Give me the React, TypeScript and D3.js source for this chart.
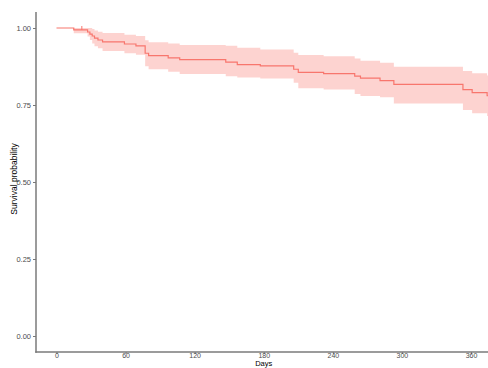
import React, { useEffect, useRef } from 'react';
import * as d3 from 'd3';

// Kaplan-Meier steps
const days = [0, 15, 27, 29, 31, 33, 36, 40, 59, 69, 77, 80, 97, 107, 147, 157, 177, 206, 210, 232, 259, 264, 281, 293, 353, 361, 374];
const surv = [1, 0.994, 0.987, 0.98, 0.974, 0.967, 0.961, 0.955, 0.948, 0.942, 0.918, 0.91, 0.903, 0.897, 0.889, 0.881, 0.877, 0.866, 0.856, 0.852, 0.844, 0.837, 0.829, 0.817, 0.8, 0.79, 0.78];
const upper = [1, 1, 1, 1, 0.997, 0.992, 0.988, 0.984, 0.978, 0.974, 0.96, 0.954, 0.95, 0.945, 0.942, 0.936, 0.93, 0.92, 0.912, 0.908, 0.901, 0.894, 0.887, 0.874, 0.86, 0.853, 0.846];
const lower = [1, 0.983, 0.972, 0.961, 0.95, 0.941, 0.934, 0.925, 0.918, 0.913, 0.876, 0.866, 0.858, 0.851, 0.843, 0.839, 0.836, 0.822, 0.804, 0.8, 0.786, 0.779, 0.775, 0.755, 0.734, 0.723, 0.714];
const censorDays = [22];

const xTicks = [0, 60, 120, 180, 240, 300, 360];
const yTicks = [0, 0.25, 0.5, 0.75, 1];

const W = 488;
const H = 368;
const COL = '#F8766D';

const App = () => {
  const svgRef = useRef(null);

  useEffect(() => {
    const svg = d3.select(svgRef.current);
    svg.selectAll('*').remove();

    const x = d3.scaleLinear().domain([0, 360]).range([56.5, 471]);
    const y = d3.scaleLinear().domain([0, 1]).range([336, 28]);
    const axisX = 36;
    const axisY = 352;

    const pts = days.map((d, i) => ({ d, s: surv[i], u: upper[i], l: lower[i] }));
    // carry the last step out to the panel edge
    const last = pts[pts.length - 1];
    pts.push({ ...last, d: x.invert(W + 2) });

    svg.append('clipPath').attr('id', 'panel')
      .append('rect').attr('x', axisX).attr('y', 0).attr('width', W - axisX).attr('height', axisY);

    const g = svg.append('g').attr('clip-path', 'url(#panel)');

    const band = d3.area()
      .x(p => x(p.d))
      .y0(p => y(p.l))
      .y1(p => y(p.u))
      .curve(d3.curveStepAfter);

    g.append('path').datum(pts)
      .attr('d', band)
      .attr('fill', COL)
      .attr('fill-opacity', 0.32);

    const line = d3.line()
      .x(p => x(p.d))
      .y(p => y(p.s))
      .curve(d3.curveStepAfter);

    g.append('path').datum(pts)
      .attr('d', line)
      .attr('fill', 'none')
      .attr('stroke', COL)
      .attr('stroke-width', 1.2);

    // censor marks
    g.selectAll('.cens').data(censorDays).enter()
      .append('line')
      .attr('x1', d => x(d)).attr('x2', d => x(d))
      .attr('y1', d => y(1) - 2).attr('y2', d => y(1) + 2)
      .attr('stroke', COL).attr('stroke-width', 1);

    // axes
    const yAxis = svg.append('g').attr('transform', `translate(${axisX},0)`)
      .call(d3.axisLeft(y).tickValues(yTicks).tickFormat(d3.format('.2f')).tickSize(3).tickPadding(2));
    yAxis.select('.domain').remove();
    const xAxis = svg.append('g').attr('transform', `translate(0,${axisY})`)
      .call(d3.axisBottom(x).tickValues(xTicks).tickSize(2).tickPadding(0));
    xAxis.select('.domain').remove();

    [yAxis, xAxis].forEach(a => {
      a.selectAll('line').attr('stroke', '#555').attr('stroke-width', 0.8);
      a.selectAll('text')
        .attr('fill', '#4d4d4d')
        .attr('font-size', 7.5)
        .attr('font-family', 'Liberation Sans, Arial, sans-serif');
    });
    xAxis.selectAll('text').attr('font-size', 7).attr('y', 5.8).attr('dy', 0);

    svg.append('line')
      .attr('x1', axisX).attr('x2', axisX).attr('y1', 12).attr('y2', axisY + 0.75)
      .attr('stroke', '#7a7a7a').attr('stroke-width', 1.5);
    svg.append('line')
      .attr('x1', axisX - 0.75).attr('x2', W).attr('y1', axisY).attr('y2', axisY)
      .attr('stroke', '#7a7a7a').attr('stroke-width', 1.5);

    svg.append('text')
      .attr('x', x(180)).attr('y', 366.3)
      .attr('text-anchor', 'middle')
      .attr('font-size', 7.5)
      .attr('font-family', 'Liberation Sans, Arial, sans-serif')
      .text('Days');

    svg.append('text')
      .attr('transform', `translate(17,${y(0.5) - 3}) rotate(-90)`)
      .attr('text-anchor', 'middle')
      .attr('font-size', 8.5)
      .attr('font-family', 'Liberation Sans, Arial, sans-serif')
      .text('Survival probability');
  }, []);

  return (
    <svg ref={svgRef} width={W} height={H}
      style={{ position: 'absolute', left: 0, top: 0, background: '#fff' }} />
  );
};

export default App;
